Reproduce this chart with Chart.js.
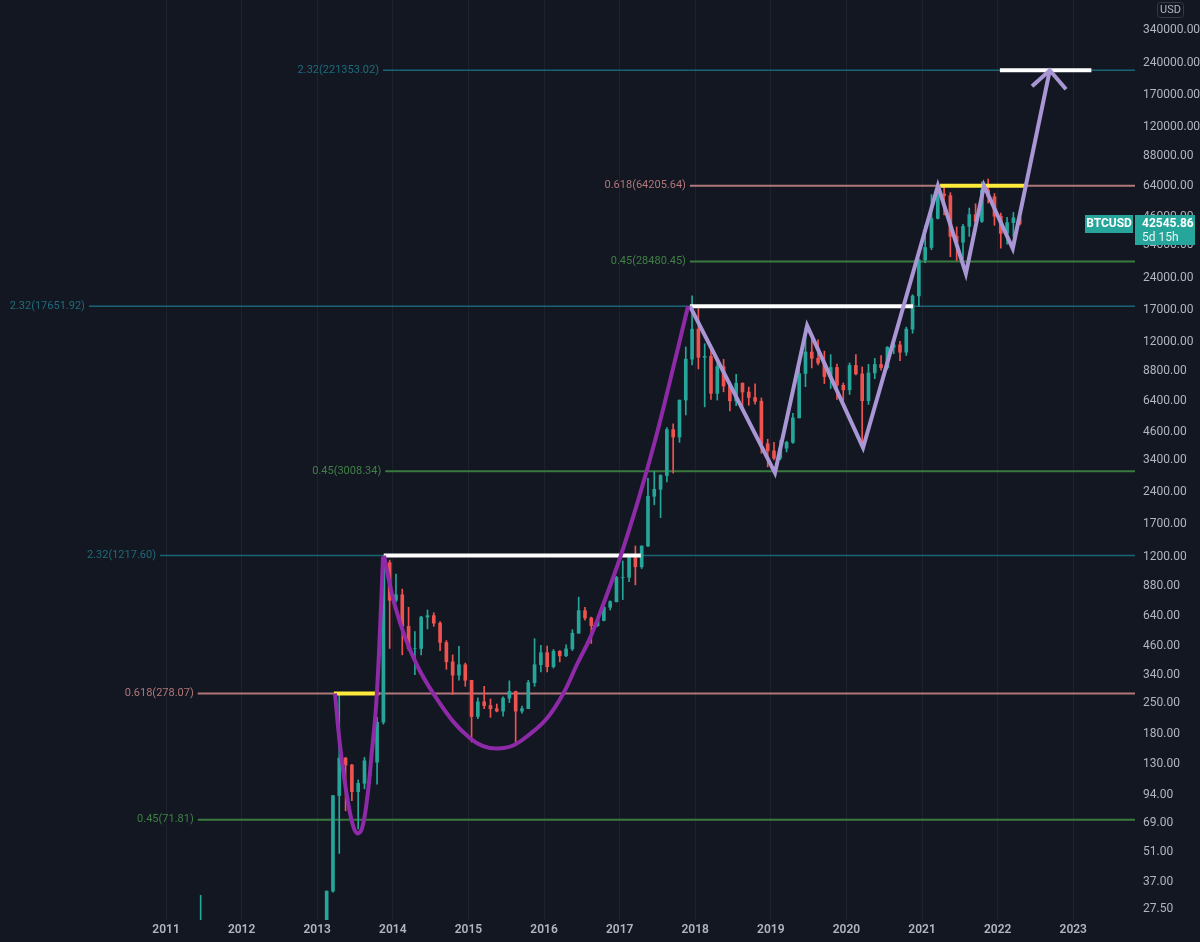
<!DOCTYPE html>
<html>
<head>
<meta charset="utf-8">
<script src="https://cdn.jsdelivr.net/npm/chart.js@4"></script>
<style>
  html, body { margin: 0; padding: 0; background: #131722; }
  #wrap { width: 1200px; height: 942px; }
</style>
</head>
<body>
<div id="wrap"><canvas id="chart" width="1200" height="942"></canvas></div>
<script>
// Monthly BTCUSD candles
const candleMonths = ['2011-06',
  '2013-01','2013-02','2013-03','2013-04','2013-05','2013-06','2013-07','2013-08','2013-09','2013-10','2013-11','2013-12',
  '2014-01','2014-02','2014-03','2014-04','2014-05','2014-06','2014-07','2014-08','2014-09','2014-10','2014-11','2014-12',
  '2015-01','2015-02','2015-03','2015-04','2015-05','2015-06','2015-07','2015-08','2015-09','2015-10','2015-11','2015-12',
  '2016-01','2016-02','2016-03','2016-04','2016-05','2016-06','2016-07','2016-08','2016-09','2016-10','2016-11','2016-12',
  '2017-01','2017-02','2017-03','2017-04','2017-05','2017-06','2017-07','2017-08','2017-09','2017-10','2017-11','2017-12',
  '2018-01','2018-02','2018-03','2018-04','2018-05','2018-06','2018-07','2018-08','2018-09','2018-10','2018-11','2018-12',
  '2019-01','2019-02','2019-03','2019-04','2019-05','2019-06','2019-07','2019-08','2019-09','2019-10','2019-11','2019-12',
  '2020-01','2020-02','2020-03','2020-04','2020-05','2020-06','2020-07','2020-08','2020-09','2020-10','2020-11','2020-12',
  '2021-01','2021-02','2021-03','2021-04','2021-05','2021-06','2021-07','2021-08','2021-09','2021-10','2021-11','2021-12',
  '2022-01','2022-02','2022-03','2022-04'];

const opens = [9.6,
  13.3, 20.4, 33.4, 93, 139, 129, 97, 106, 135, 133, 204, 1130,
  754, 800, 570, 450, 450, 630, 640, 590, 480, 390, 338, 378,
  320, 217, 254, 244, 236, 230, 264, 284, 230, 236, 312, 378,
  430, 370, 437, 416, 448, 530, 675, 624, 575, 608, 700, 743,
  963, 965, 1190, 1080, 1350, 2300, 2480, 2875, 4700, 4340, 6450, 10000,
  13800, 10200, 10300, 6930, 9240, 7500, 6390, 7730, 7030, 6630, 6370, 4040,
  3740, 3460, 3850, 4100, 5330, 8570, 10800, 10100, 9600, 8300, 9150, 7560,
  7200, 9350, 8540, 6410, 8630, 9450, 9140, 11350, 11660, 10780, 13800, 19700,
  28950, 33100, 45200, 58800, 57700, 37300, 35050, 41500, 47100, 43800, 61300, 57000,
  46300, 38500, 43200, 45500];

const highs = [31.9,
  20.4, 33.4, 93, 278, 140, 130, 110, 140, 150, 215, 1217.6, 1160,
  1000, 850, 700, 540, 635, 680, 660, 600, 490, 420, 460, 385,
  320, 265, 300, 262, 248, 268, 318, 285, 243, 320, 500, 465,
  462, 445, 440, 468, 550, 780, 700, 630, 610, 735, 750, 975,
  1150, 1200, 1350, 1350, 2790, 3000, 2900, 4800, 5000, 6450, 11400, 19700,
  17200, 11800, 11700, 9750, 9990, 7760, 8500, 7760, 7410, 7680, 6600, 4240,
  4100, 4200, 4150, 5600, 9100, 13900, 13200, 12300, 10900, 10500, 9500, 7750,
  9600, 10500, 9200, 9460, 10080, 10400, 11450, 12480, 12100, 14100, 19950, 29300,
  41950, 58350, 61800, 64800, 59600, 41300, 42400, 50500, 52900, 67000, 69000, 59000,
  47900, 45800, 48200, 47400];

const lows = [9.6,
  12.9, 19.1, 33, 50, 79, 88, 65, 100, 116, 105, 200, 450,
  740, 420, 440, 340, 420, 555, 570, 440, 360, 275, 320, 300,
  165, 212, 236, 215, 228, 218, 252, 162, 225, 236, 300, 350,
  350, 365, 390, 412, 440, 530, 610, 475, 570, 605, 680, 740,
  760, 920, 890, 1060, 1340, 2100, 1830, 2680, 2950, 4100, 5500, 9400,
  9000, 6000, 6500, 6450, 7050, 5750, 6070, 5880, 6100, 6180, 3650, 3150,
  3400, 3400, 3700, 4050, 5330, 7450, 9100, 9400, 7700, 7300, 6500, 6430,
  6850, 8450, 3850, 6150, 8110, 8900, 8970, 10600, 9850, 10400, 13200, 17600,
  28100, 32300, 44950, 47000, 30000, 28800, 29300, 37300, 39600, 43300, 53300, 42000,
  32900, 34300, 37200, 42100];

const closes = [16.1,
  20.4, 33.4, 93, 139, 129, 97, 106, 135, 133, 204, 1130, 754,
  800, 570, 450, 450, 630, 640, 590, 480, 390, 338, 378, 320,
  217, 254, 244, 236, 230, 264, 284, 230, 236, 312, 378, 430,
  370, 437, 416, 448, 530, 675, 624, 575, 608, 700, 743, 963,
  965, 1190, 1080, 1350, 2300, 2480, 2875, 4700, 4340, 6450, 10000, 13800,
  10200, 10300, 6930, 9240, 7500, 6390, 7730, 7030, 6630, 6370, 4040, 3740,
  3460, 3850, 4100, 5330, 8570, 10800, 10100, 9600, 8300, 9150, 7560, 7200,
  9350, 8540, 6410, 8630, 9450, 9140, 11350, 11660, 10780, 13800, 19700, 28950,
  33100, 45200, 58800, 57700, 37300, 35050, 41500, 47100, 43800, 61300, 57000, 46300,
  38500, 43200, 45500, 42545.86];

const lastPrice = 42545.86;

// Axis ticks
const yearTicks = [2011, 2012, 2013, 2014, 2015, 2016, 2017, 2018, 2019, 2020, 2021, 2022, 2023];
const priceTicks = [340000, 240000, 170000, 120000, 88000, 64000, 46000, 34000, 24000, 17000, 12000,
  8800, 6400, 4600, 3400, 2400, 1700, 1200, 880, 640, 460, 340, 250, 180, 130, 94, 69, 51, 37, 27.5];

// Fibonacci levels: ratio, price, start (decimal year)
const fibRatios = ['2.32', '0.618', '0.45', '2.32', '0.45', '2.32', '0.618', '0.45'];
const fibPrices = [221353.02, 64205.64, 28480.45, 17651.92, 3008.34, 1217.60, 278.07, 71.81];
const fibStarts = [2013.87, 2017.93, 2017.93, 2009.98, 2013.9, 2010.92, 2011.42, 2011.42];

// Hand-drawn shapes (decimal year, price)
const smallCupX = [2013.235, 2013.30, 2013.39, 2013.47, 2013.53, 2013.59, 2013.66, 2013.72, 2013.78, 2013.83, 2013.87];
const smallCupY = [278, 161, 94, 68, 62, 65, 90, 145, 248, 542, 1200];
const bigCupX = [2013.884, 2013.937, 2014.029, 2014.161, 2014.333, 2014.532, 2014.796, 2015.021, 2015.193, 2015.378,
  2015.590, 2015.815, 2016.040, 2016.251, 2016.437, 2016.608, 2016.780, 2017.005, 2017.243, 2017.468, 2017.667, 2017.905];
const bigCupY = [1217, 979, 709, 508, 368, 279, 206, 172, 158, 154,
  159, 180, 213, 276, 380, 503, 717, 1187, 2189, 4169, 7937, 17651];
const zigzagX = [2017.93, 2019.055, 2019.48, 2020.22, 2021.21, 2021.58, 2021.82, 2022.20, 2022.69];
const zigzagY = [17651, 2957, 14330, 3866, 64205, 25030, 64205, 32750, 221353];
const arrowX = [2022.455, 2022.69, 2022.905];
const arrowY = [186400, 221353, 180500];
const whiteX = [[2013.88, 2017.28], [2017.93, 2020.88], [2022.03, 2023.24]];
const whiteY = [1217.6, 17651.92, 221353.02];
const yellowX = [[2013.22, 2013.82], [2021.24, 2022.39]];
const yellowY = [278.07, 64205.64];

const UP = '#26a69a', DOWN = '#ef5350';
const fibColors = { '2.32': '#1b6476', '0.618': '#b07878', '0.45': '#3a7a3e' };
const fibWidths = { '2.32': 1.5, '0.618': 2, '0.45': 2 };
const fibText = { '2.32': '#1f6b7b', '0.618': '#b07878', '0.45': '#3f8045' };

function monthToYear(s) {
  const [y, m] = s.split('-').map(Number);
  return y + (m - 0.5) / 12;
}
const candleX = candleMonths.map(monthToYear);
const isUp = i => closes[i] >= opens[i];

function pts(xs, ys) { return xs.map((x, i) => ({ x: x, y: ys[i] })); }

const datasets = [];

// drawings on top
datasets.push({ type: 'line', data: pts(smallCupX, smallCupY), borderColor: '#8e2aa8', borderWidth: 4,
  pointRadius: 0, tension: 0.4, order: 1 });
datasets.push({ type: 'line', data: pts(bigCupX, bigCupY), borderColor: '#8e2aa8', borderWidth: 4,
  pointRadius: 0, tension: 0.4, order: 1 });
datasets.push({ type: 'line', data: pts(zigzagX, zigzagY), borderColor: '#a897d4', borderWidth: 4,
  pointRadius: 0, tension: 0, borderJoinStyle: 'miter', order: 1 });
datasets.push({ type: 'line', data: pts(arrowX, arrowY), borderColor: '#a897d4', borderWidth: 4,
  pointRadius: 0, tension: 0, borderJoinStyle: 'miter', order: 1 });
whiteX.forEach((xs, i) => datasets.push({ type: 'line', data: pts(xs, [whiteY[i], whiteY[i]]),
  borderColor: '#ffffff', borderWidth: 4, pointRadius: 0, order: 2 }));
yellowX.forEach((xs, i) => datasets.push({ type: 'line', data: pts(xs, [yellowY[i], yellowY[i]]),
  borderColor: '#ffeb3b', borderWidth: 4, pointRadius: 0, order: 2 }));

// candles
datasets.push({ type: 'bar', data: candleX.map((x, i) => ({ x: x, y: [opens[i], closes[i]] })),
  backgroundColor: ctx => isUp(ctx.dataIndex) ? UP : DOWN, barThickness: 3, grouped: false, order: 4 });
datasets.push({ type: 'bar', data: candleX.map((x, i) => ({ x: x, y: [lows[i], highs[i]] })),
  backgroundColor: ctx => isUp(ctx.dataIndex) ? UP : DOWN, barThickness: 1, grouped: false, order: 5 });

// fib lines
fibPrices.forEach((p, i) => datasets.push({ type: 'line', data: pts([fibStarts[i], 2030], [p, p]),
  borderColor: fibColors[fibRatios[i]], borderWidth: fibWidths[fibRatios[i]], pointRadius: 0, order: 6 }));

const overlay = {
  id: 'overlay',
  afterDatasetsDraw(chart) {
    const { ctx, scales: { x, y } } = chart;
    ctx.save();
    ctx.font = '11px Roboto, "Liberation Sans", sans-serif';
    ctx.textAlign = 'right';
    ctx.textBaseline = 'middle';
    fibPrices.forEach((p, i) => {
      ctx.fillStyle = fibText[fibRatios[i]];
      ctx.fillText(fibRatios[i] + '(' + p.toFixed(2) + ')', x.getPixelForValue(fibStarts[i]) - 4, y.getPixelForValue(p));
    });
    ctx.restore();
  },
  afterDraw(chart) {
    const { ctx, scales: { y }, chartArea } = chart;
    ctx.save();
    // USD box
    ctx.strokeStyle = '#363a45';
    ctx.lineWidth = 1;
    ctx.beginPath();
    ctx.roundRect(1157.5, 2.5, 26, 15, 3);
    ctx.stroke();
    ctx.fillStyle = '#b2b5be';
    ctx.font = '11px Roboto, "Liberation Sans", sans-serif';
    ctx.textAlign = 'center';
    ctx.textBaseline = 'middle';
    ctx.fillText('USD', 1170.5, 10.5);

    // last price labels
    const py = Math.round(y.getPixelForValue(lastPrice));
    ctx.fillStyle = UP;
    ctx.fillRect(1085, py - 9, 48, 18);
    ctx.fillRect(chartArea.right, py - 9, 60, 30);
    ctx.fillStyle = '#ffffff';
    ctx.font = 'bold 12px Roboto, "Liberation Sans", sans-serif';
    ctx.fillText('BTCUSD', 1109, py);
    ctx.textAlign = 'left';
    ctx.fillText(lastPrice.toFixed(2), chartArea.right + 7, py);
    ctx.font = '12px Roboto, "Liberation Sans", sans-serif';
    ctx.fillStyle = '#e8f5f3';
    ctx.fillText('5d 15h', chartArea.right + 7, py + 14);
    ctx.restore();
  }
};

new Chart(document.getElementById('chart'), {
  type: 'bar',
  data: { datasets: datasets },
  options: {
    responsive: false,
    animation: false,
    devicePixelRatio: 1,
    layout: { padding: 0 },
    plugins: { legend: { display: false }, tooltip: { enabled: false } },
    scales: {
      x: {
        type: 'linear',
        min: 2008.804,
        max: 2023.817,
        offset: false,
        afterBuildTicks: s => { s.ticks = yearTicks.map(v => ({ value: v })); },
        afterFit: s => { s.height = 22; s.paddingLeft = 0; s.paddingRight = 0; },
        grid: { color: '#1e222d', drawTicks: false, offset: false },
        border: { display: false },
        ticks: { color: '#b2b5be', padding: 3, autoSkip: false, maxRotation: 0,
          font: { family: 'Roboto, "Liberation Sans", sans-serif', size: 12, weight: '600' },
          callback: v => String(v) }
      },
      y: {
        type: 'logarithmic',
        position: 'right',
        min: 24.5,
        max: 470000,
        afterBuildTicks: s => { s.ticks = priceTicks.map(v => ({ value: v })); },
        afterFit: s => { s.width = 65; s.paddingTop = 0; s.paddingBottom = 0; },
        grid: { display: false, drawTicks: false },
        border: { display: false },
        ticks: { color: '#b2b5be', padding: 8, autoSkip: false,
          font: { family: 'Roboto, "Liberation Sans", sans-serif', size: 12 },
          callback: v => Number(v).toFixed(2) }
      }
    }
  },
  plugins: [overlay]
});
</script>
</body>
</html>
